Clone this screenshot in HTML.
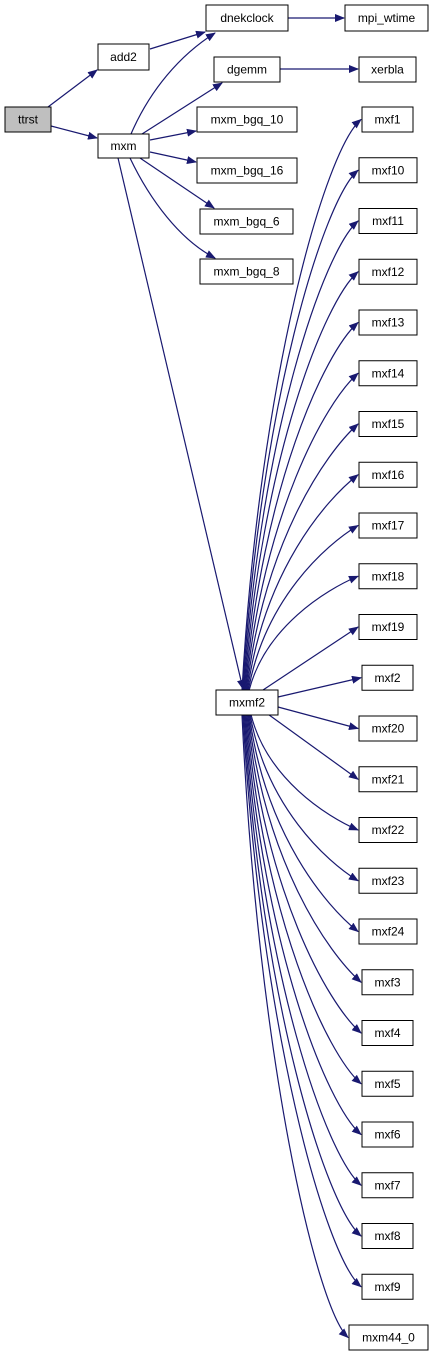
<!DOCTYPE html>
<html><head><meta charset="utf-8"><style>
html,body{margin:0;padding:0;background:#fff;}
svg{display:block;}
text{font-family:"Liberation Sans",Helvetica,sans-serif;font-size:12px;fill:#000;}
</style></head><body>
<svg id="g" width="436" height="1355" viewBox="0 0 436 1355" xmlns="http://www.w3.org/2000/svg">
<defs><marker id="a" markerWidth="10" markerHeight="8" refX="9" refY="4" orient="auto" markerUnits="userSpaceOnUse"><path d="M0,0 L10,4 L0,8 z" fill="#191970"/></marker></defs>
<g id="e" fill="none" stroke="#191970" stroke-width="1.2"></g>
<g id="n"></g>
</svg>
<script>
var ns="http://www.w3.org/2000/svg",E=document.getElementById('e'),N=document.getElementById('n');
function box(x1,y1,x2,y2,t,fill){var r=document.createElementNS(ns,'rect');r.setAttribute('x',x1);r.setAttribute('y',y1);r.setAttribute('width',x2-x1);r.setAttribute('height',y2-y1);r.setAttribute('fill',fill||'#fff');r.setAttribute('stroke','#000');r.setAttribute('stroke-width','1');N.appendChild(r);var s=document.createElementNS(ns,'text');s.setAttribute('x',(x1+x2)/2);s.setAttribute('y',(y1+y2)/2+4);s.setAttribute('text-anchor','middle');s.textContent=t;N.appendChild(s);}
function p(d){var q=document.createElementNS(ns,'path');q.setAttribute('d',d);q.setAttribute('marker-end','url(#a)');E.appendChild(q);}
box(5,107,51,132,'ttrst','#bfbfbf');
box(98,44,149,70,'add2');box(98,134,149,158,'mxm');
box(206,5,288,31,'dnekclock');box(345,5,428,31,'mpi_wtime');
box(214,57,280,82,'dgemm');box(359,57,416,82,'xerbla');
box(197,107,297,132,'mxm_bgq_10');box(197,158,297,183,'mxm_bgq_16');
box(200,209,293,234,'mxm_bgq_6');box(200,259,293,284,'mxm_bgq_8');
box(216,690,278,715,'mxmf2');
p('M48,107 L97,70');p('M51,126 L97,138');
p('M150,49 L205,32');p('M288,18 L344,18');p('M280,69 L358,69');
p('M131,134 C150,90 180,55 215,33');
p('M142,134 L222,83');p('M150,140 L196,131');p('M150,152 L196,162');
p('M140,158 L214,208');p('M130,158 C150,200 180,240 215,258');
p('M118,158 L243,689');
var names=['mxf1','mxf10','mxf11','mxf12','mxf13','mxf14','mxf15','mxf16','mxf17','mxf18','mxf19','mxf2','mxf20','mxf21','mxf22','mxf23','mxf24','mxf3','mxf4','mxf5','mxf6','mxf7','mxf8','mxf9','mxm44_0'];
names.forEach(function(t,i){var y=107+i*50.75,x1,x2;
if(t=='mxm44_0'){x1=349;x2=428}else if(t.length>4){x1=359;x2=417}else{x1=362;x2=413}
box(x1,y,x2,y+25,t);var ey=y+12.5,ex=x1-1;
if(i>=10&&i<=13){var sy=i==10?692:i==11?697:i==12?707:712,sx=i==10?260:278;if(i==13)sx=265;p('M'+sx+','+sy+' L'+ex+','+ey);}
else{var up=ey<700,sx=242+(up?(i/10)*8:((24-i)/11)*10),sy=up?690:715;
var c2x=ex-(ex-sx)*0.3,c2y=ey+(up?1:-1)*Math.min(30,Math.abs(ey-sy)*0.12);
p('M'+sx+','+sy+' C'+(sx+(ex-sx)*0.15)+','+(sy+(ey-sy)*0.55)+' '+c2x+','+c2y+' '+ex+','+ey);}
});
</script>
</body></html>
